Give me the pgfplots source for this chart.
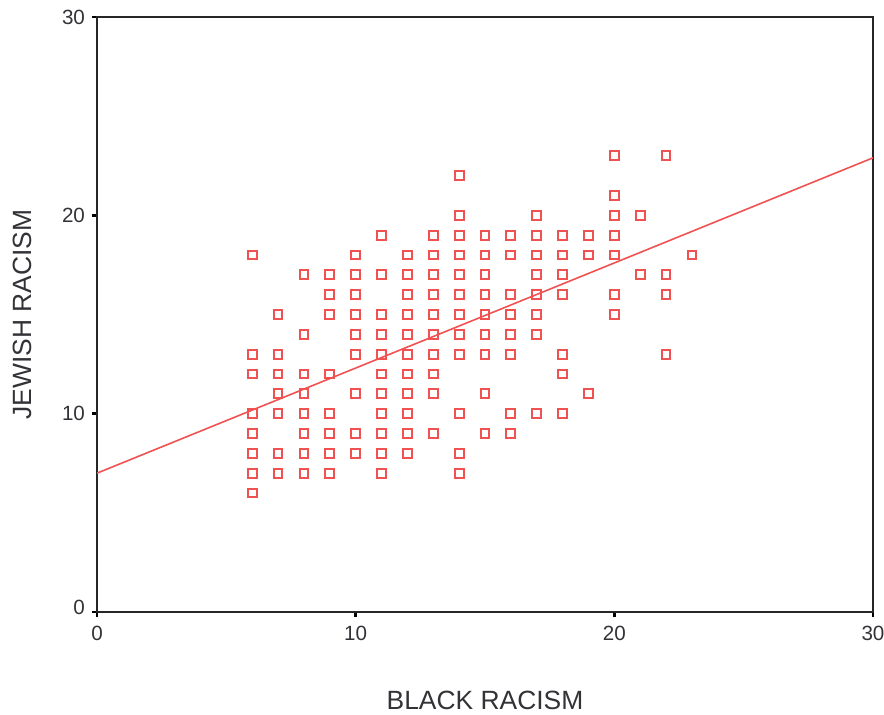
\documentclass[border=0pt]{standalone}
\usepackage{fontspec}
\setmainfont{Liberation Sans}
\usepackage{pgfplots}
\pgfplotsset{compat=1.18}
\definecolor{ptred}{RGB}{240,82,82}
\definecolor{txtgray}{RGB}{50,50,55}
\begin{document}
\begin{tikzpicture}
\path[use as bounding box] (-48.5pt,-51pt) rectangle (393.5pt,306pt);
\begin{axis}[
  scale only axis, width=388pt, height=297.5pt,
  at={(0,0)}, anchor=south west,
  xmin=0, xmax=30, ymin=0, ymax=30,
  xtick={0,10,20,30}, ytick={0,10,20,30},
  yticklabels={\raisebox{5pt}{0},10,20,30},
  xtick pos=left, ytick pos=left,
  tick align=outside, major tick length=2.5pt,
  every tick/.style={line width=1.2pt, black},
  axis line style={line width=0.9pt, black!85},
  /pgf/number format/assume math mode=true,
  tick label style={font=\fontsize{10.3}{12}\selectfont, text=txtgray},
  xticklabel style={yshift=-1pt},
  xlabel={BLACK RACISM}, ylabel={JEWISH RACISM},
  label style={font=\fontsize{13.2}{15}\selectfont, text=txtgray},
  xlabel style={at={(axis description cs:0.5,0)}, anchor=center, yshift=-44pt},
  ylabel style={at={(axis description cs:0,0.5)}, anchor=center, rotate=0, xshift=0pt, yshift=37.5pt},
]
\addplot[only marks, mark=square, mark size=2.2pt, mark options={ptred, line width=1pt, fill=none}] table {
x y
6 18
6 13
6 12
6 10
6 9
6 8
6 7
6 6
7 15
7 13
7 12
7 11
7 10
7 8
7 7
8 17
8 14
8 12
8 11
8 10
8 9
8 8
8 7
9 17
9 16
9 15
9 12
9 10
9 9
9 8
9 7
10 18
10 17
10 16
10 15
10 14
10 13
10 11
10 9
10 8
11 19
11 17
11 15
11 14
11 13
11 12
11 11
11 10
11 9
11 8
11 7
12 18
12 17
12 16
12 15
12 14
12 13
12 12
12 11
12 10
12 9
12 8
13 19
13 18
13 17
13 16
13 15
13 14
13 13
13 12
13 11
13 9
14 22
14 20
14 19
14 18
14 17
14 16
14 15
14 14
14 13
14 10
14 8
14 7
15 19
15 18
15 17
15 16
15 15
15 14
15 13
15 11
15 9
16 19
16 18
16 16
16 15
16 14
16 13
16 10
16 9
17 20
17 19
17 18
17 17
17 16
17 15
17 14
17 10
18 19
18 18
18 17
18 16
18 13
18 12
18 10
19 19
19 18
19 11
20 23
20 21
20 20
20 19
20 18
20 16
20 15
21 20
21 17
22 23
22 17
22 16
22 13
23 18
};
\addplot[ptred, line width=0.8pt] coordinates {(0,7.0) (30,22.9)};
\end{axis}
\end{tikzpicture}
\end{document}
